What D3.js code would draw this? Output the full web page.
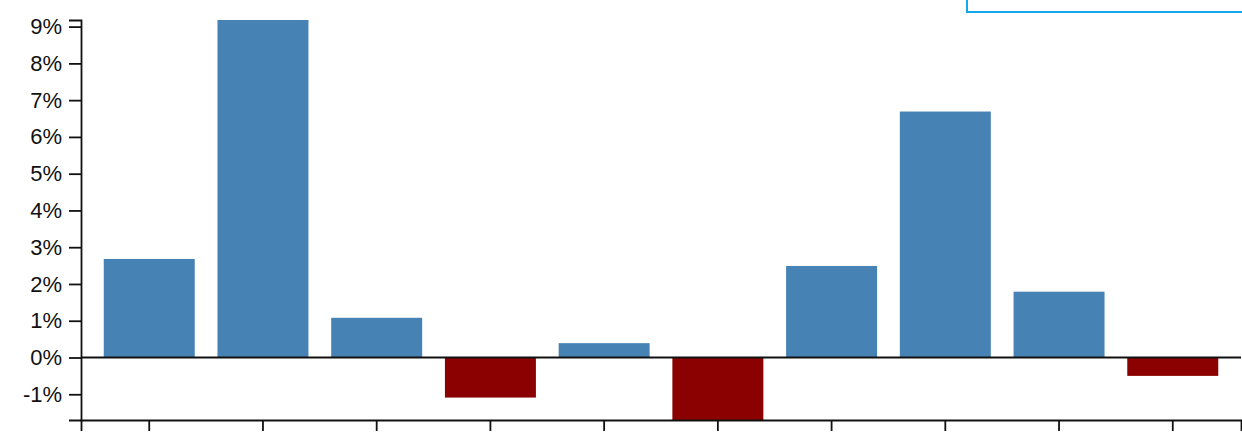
<!DOCTYPE html>
<html>
<head>
<meta charset="utf-8">
<script src="https://cdn.jsdelivr.net/npm/d3@7"></script>
<style>
    body { margin: 0; background: #fff; }
    .axis text { font-family: "Liberation Sans", Arial, sans-serif; font-size: 22px; fill: #111; }
    .axis path, .axis line { stroke: #111; stroke-width: 1.8; }
</style>
</head>
<body>
<div class="bar-chart"></div>
<script>
// values (percent)
const categories = ["1", "2", "3", "4", "5", "6", "7", "8", "9", "10"];
const values = [2.68, 9.18, 1.08, -1.09, 0.39, -1.70, 2.49, 6.69, 1.79, -0.50];
const yTicks = [-1, 0, 1, 2, 3, 4, 5, 6, 7, 8, 9];

const data = categories.map((c, i) => ({cat: c, value: values[i]}));

//CHART INIT
var margin = {top: 20, right: 1, bottom: 14, left: 81};
const width = 1242 - margin.left - margin.right;
const height = 434 - margin.top - margin.bottom;

const root = d3.select(".bar-chart")
    .append("svg")
    .attr("width", 1242)
    .attr("height", 434);

const svg = root.append("g")
    .attr("transform", "translate(" + margin.left + "," + margin.top + ")");

let xScale = d3.scaleBand()
    .domain(categories)
    .range([0, width])
    .padding(0.2);

let yScale = d3.scaleLinear()
    .domain(d3.extent(values))
    .range([height, 0]);

//BARS
svg.selectAll(".bar")
    .data(data)
    .enter()
    .append("rect")
    .attr("class", "bar")
    .attr("x", d => xScale(d.cat))
    .attr("width", xScale.bandwidth())
    .attr("y", d => yScale(Math.max(0, d.value)))
    .attr("height", d => Math.abs(yScale(d.value) - yScale(0)))
    .attr("fill", d => d.value < 0 ? "#8b0000" : "#4682b4");

//ZERO LINE
svg.append("line")
    .attr("x1", 0)
    .attr("x2", width)
    .attr("y1", yScale(0))
    .attr("y2", yScale(0))
    .attr("stroke", "#111")
    .attr("stroke-width", 1.8);

//AXES
let xAxis = d3.axisBottom(xScale).tickSize(11).tickFormat("");
let yAxis = d3.axisLeft(yScale)
    .tickValues(yTicks)
    .tickSize(12)
    .tickPadding(7)
    .tickFormat(d => d + "%");

svg.append("g")
    .attr("class", "axis x-axis")
    .attr("transform", `translate(0, ${height})`)
    .call(xAxis);

svg.append("g")
    .attr("class", "axis y-axis")
    .call(yAxis);

//BOX AT TOP RIGHT
root.append("rect")
    .attr("x", 967)
    .attr("y", -20)
    .attr("width", 300)
    .attr("height", 32)
    .attr("fill", "none")
    .attr("stroke", "#12a8ec")
    .attr("stroke-width", 2);
</script>
</body>
</html>
